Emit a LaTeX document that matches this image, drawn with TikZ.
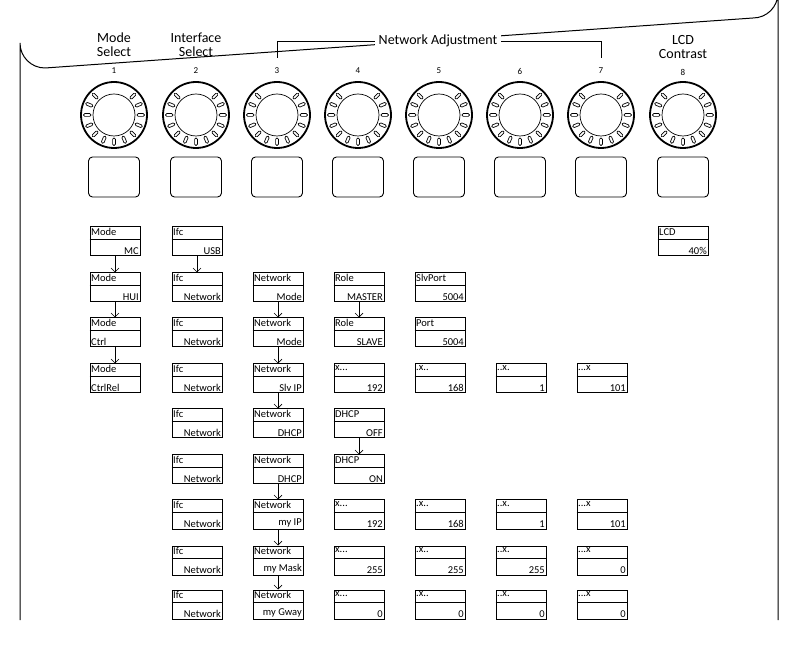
\documentclass[tikz,border=0pt]{standalone}
\usepackage{fontspec}
\setmainfont{Carlito}
\usetikzlibrary{arrows.meta}
\tikzset{
  box/.style={draw,line width=1pt,minimum width=50pt,minimum height=29pt,inner sep=0pt},
  btn/.style={draw,line width=0.9pt,rounded corners=4pt,minimum width=51pt,minimum height=40pt},
  arr/.style={-{Straight Barb[length=4pt,width=8pt]},line width=0.7pt},
  head/.style={font=\fontsize{14}{14}\selectfont,align=center},
  num/.style={font=\fontsize{9}{9}\selectfont},
  txt/.style={font=\fontsize{10.5}{10.5}\selectfont,inner sep=1.5pt}
}
\newcommand{\mycell}[6]{%
  \node[box] (#1) at (#2,#3+14.5) {};
  \draw[line width=0.8pt] ([yshift=-13pt]#1.north west) -- ([yshift=-13pt]#1.north east);
  \node[txt,anchor=north west] at ([yshift=-0.5pt]#1.north west) {#4};
  \node[txt,anchor=south #6] at ([yshift=0.5pt]#1.south #6) {#5};
}
\newcommand{\myknob}[2]{%
  \draw[line width=1.8pt] (#1,115) circle[radius=33pt];
  \draw[line width=0.7pt] (#1,115) circle[radius=21pt];
  \foreach \a in {-45,-22.5,...,225}{
    \draw[line width=0.7pt,rounded corners=1.3pt,rotate around={-\a:(#1,115)}] (#1+23,113.6) rectangle (#1+30.5,116.4);
  }
  \node[btn] (btn#2) at (#1,177) {};
}
\begin{document}
\begin{tikzpicture}[x=1pt,y=-1pt]
\useasboundingbox (0,0) rectangle (788,652);
\draw[line width=1pt] (20,620) -- (20,43) arc[start angle=180,end angle=90,radius=25] -- (753,18) arc[start angle=90,end angle=0,radius=25] -- (778,620);
% headings
\node[head] (h1) at (114,45) {Mode\\Select};
\node[head] (h2) at (196,45) {Interface\\Select};
\node[head,fill=white] (h3) at (438,41) {Network Adjustment};
\node[head] (h8) at (683,47) {LCD\\Contrast};
\coordinate (bl) at (277,58); \coordinate (br) at (601,58);
\draw[line width=0.9pt] (bl) -- (277,41) -- (h3.west);
\draw[line width=0.9pt] (br) -- (601,41) -- (h3.east);
\foreach \i/\x in {1/114,2/196,3/277,4/358,5/439,6/520,7/601}{\node[num] (n\i) at (\x,71) {\i};}
\node[num] (n8) at (683,72) {8};
\foreach \i/\x in {1/114,2/196,3/277,4/358,5/439,6/520,7/601,8/683}{\myknob{\x}{\i}}
% column 1
\mycell{a1}{115}{227}{Mode}{MC}{east}
\mycell{a2}{115}{273}{Mode}{HUI}{east}
\mycell{a3}{115}{318}{Mode}{Ctrl}{west}
\mycell{a4}{115}{364}{Mode}{CtrlRel}{west}
% column 2
\mycell{b1}{197}{227}{Ifc}{USB}{east}
\foreach \r/\y in {2/273,3/318,4/364,5/409,6/455,7/500,8/546,9/590}{\mycell{b\r}{197}{\y}{Ifc}{Network}{east}}
% column 3
\mycell{c2}{278}{273}{Network}{Mode}{east}
\mycell{c3}{278}{318}{Network}{Mode}{east}
\mycell{c4}{278}{364}{Network}{Slv IP}{east}
\mycell{c5}{278}{409}{Network}{DHCP}{east}
\mycell{c6}{278}{455}{Network}{DHCP}{east}
\mycell{c7}{278}{500}{Network}{my IP}{east}
\mycell{c8}{278}{546}{Network}{my Mask}{east}
\mycell{c9}{278}{590}{Network}{my Gway}{east}
% column 4
\mycell{d2}{359}{273}{Role}{MASTER}{east}
\mycell{d3}{359}{318}{Role}{SLAVE}{east}
\mycell{d4}{359}{364}{x...}{192}{east}
\mycell{d5}{359}{409}{DHCP}{OFF}{east}
\mycell{d6}{359}{455}{DHCP}{ON}{east}
\mycell{d7}{359}{500}{x...}{192}{east}
\mycell{d8}{359}{546}{x...}{255}{east}
\mycell{d9}{359}{590}{x...}{0}{east}
% column 5
\mycell{e2}{440}{273}{SlvPort}{5004}{east}
\mycell{e3}{440}{318}{Port}{5004}{east}
\mycell{e4}{440}{364}{.x..}{168}{east}
\mycell{e7}{440}{500}{.x..}{168}{east}
\mycell{e8}{440}{546}{.x..}{255}{east}
\mycell{e9}{440}{590}{.x..}{0}{east}
% column 6
\mycell{f4}{521}{364}{..x.}{1}{east}
\mycell{f7}{521}{500}{..x.}{1}{east}
\mycell{f8}{521}{546}{..x.}{255}{east}
\mycell{f9}{521}{590}{..x.}{0}{east}
% column 7
\mycell{g4}{602}{364}{...x}{101}{east}
\mycell{g7}{602}{500}{...x}{101}{east}
\mycell{g8}{602}{546}{...x}{0}{east}
\mycell{g9}{602}{590}{...x}{0}{east}
% column 8
\mycell{h1}{683}{227}{LCD}{40\%}{east}
% arrows
\foreach \p/\q in {a1/a2,a2/a3,a3/a4,b1/b2,c2/c3,c3/c4,c4/c5,c6/c7,c7/c8,c8/c9,d2/d3,d5/d6}{
  \draw[arr] (\p.south) -- (\q.north);
}
\end{tikzpicture}
\end{document}
